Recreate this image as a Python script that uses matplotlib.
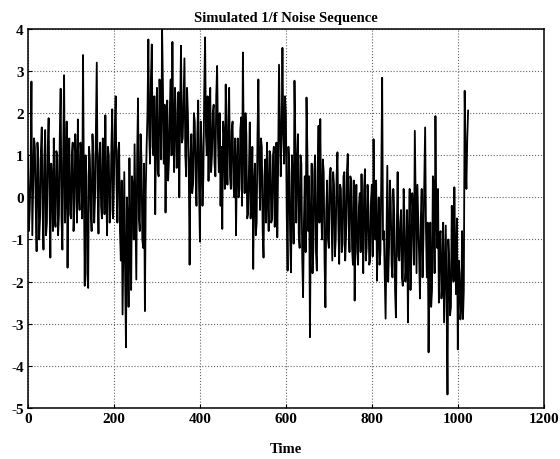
import numpy as np
import matplotlib
matplotlib.use('Agg')
import matplotlib.pyplot as plt

plt.rcParams['font.family'] = ['Liberation Serif', 'DejaVu Serif']
plt.rcParams['axes.unicode_minus'] = False

# the trace every 2 time units;
# samples at t = 0, 4, 8, ... 1024
noise_a = [
    1.0, -0.3, 2.75, 0.2, 1.2, -1.28, 0.9, -0.5, 1.66, -1.24, 1.6, -0.6, 1.88, -1.43, 0.4, 1.4,
    -0.7, 1.0, -0.4, 2.58, -1.24, 2.9, 0.2, -1.67, 1.4, -0.5, 1.3, -0.2, 0.8, 1.85, -0.3, 1.0,
    3.38, -2.1, 0.5, -2.15, 0.9, -0.8, 1.0, 0.0, 3.2, -0.86, 1.3, -0.5, 1.1, 1.95, -0.9, 1.0,
    -0.3, 2.09, 0.4, 2.4, -0.6, 1.3, -1.5, -2.78, 0.6, -3.56, -0.5, 0.93, -2.2, 0.2, 1.26, -1.95,
    2.35, -0.8, 0.9, -1.2, -2.7, 1.2, 3.75, 0.8, 3.63, 1.0, -0.4, 2.6, 0.5, 2.2, 4.0, 0.8,
    -0.36, 2.3, 0.9, 2.8, 3.69, 0.6, 2.0, 1.2, 0.0, 3.6, 1.4, 3.3, 0.5, 2.0, -1.6, 1.5,
    0.3, 1.8, -0.2, 2.3, -1.05, 1.2, 0.5, 3.8, 1.0, 0.39, 2.6, 1.0, 2.2, 0.5, 3.12, 0.6,
    -0.2, -0.75, 1.5, 2.68, 0.3, 2.6, 0.2, 1.8, 0.0, -0.9, 1.4, 0.2, 1.9, 3.44, 0.1, 1.5,
    -0.4, 1.78, 0.2, -1.7, 0.8, -0.6, 2.8, -0.3, 1.2, -1.43, 0.9, 1.3, -0.8, 1.0, -0.5, 1.2,
    -0.2, -0.95, 3.15, 0.5, 3.55, 0.8, 2.0, -1.74, 0.6, -1.78, 0.4, 2.77, -0.6, 1.5, -1.2, 0.8,
    -2.37, 0.5, 2.37, -0.8, -3.32, 0.8, -1.2, 1.0, -1.74, 1.7, 1.86, -1.0, 0.6, -2.61, 0.4, -1.2,
    0.7, -1.5, 0.3, -1.0, 1.07, -1.58, 0.2, -1.1, 0.6, -0.9, 1.03, -1.3, 0.4, -1.6, -2.45, 0.3,
    -1.6, 0.1, 0.55, -1.8, 0.67, -1.2, -0.2, -1.5, 0.3, 1.38, -1.0, -1.98, 0.0, -1.3, 2.84, -0.8,
    -2.88, 0.75, -1.2, -0.1, -1.9, -0.4, -2.85, 0.6, -1.5, -0.3, -2.1, -0.5, -1.6, -2.97, 0.2, -1.4,
    -0.3, 1.58, -1.8, -0.5, -2.4, 0.2, -1.0, 1.66, -1.9, -3.68, -0.6, -2.2, 0.3, 1.93, -1.2, -2.5,
    -0.8, -2.0, -2.97, -0.67, -4.68, -1.5, -2.6, -1.2, 0.24, -2.3, -3.61, -1.8, -2.6, -2.89, 2.53, 0.2,
    2.06,
]
# samples at t = 2, 6, 10, ... 1022
noise_b = [
    -0.8, 0.6, -0.9, 1.4, -0.2, 1.3, -1.0, 1.1, -0.3, 0.9, -0.9, 1.2, 0.1, 0.8, -0.8, -0.4,
    1.1, -0.9, 1.5, -0.5, 1.2, -0.6, 1.8, 0.6, -0.4, 1.0, -0.8, 1.5, -0.6, 0.2, 1.3, -0.5,
    0.4, 1.0, -1.8, 1.2, -0.3, 1.5, -0.6, 1.6, 0.2, 1.0, -0.2, 1.4, -0.4, 0.2, 1.2, -0.6,
    1.2, -0.5, 1.7, 0.3, 1.1, -0.8, 0.4, -1.0, -1.9, 0.0, -2.6, -1.2, 0.5, -1.0, -0.4, 1.0,
    -0.5, 1.5, -1.0, 0.8, 0.2, 2.0, 1.5, 2.8, 1.2, 2.4, 1.6, 0.6, 2.8, 0.9, 2.6, 2.2,
    1.6, 0.4, 2.1, 1.0, 1.5, 2.6, 0.7, 2.5, 2.1, 1.3, 2.4, 1.0, 2.6, 0.8, 0.9, 0.1,
    2.0, 0.5, 1.5, 0.2, 1.8, -0.2, 2.5, 1.5, 2.4, 1.8, 0.6, 2.0, 0.8, 2.4, 1.4, 2.0,
    1.2, 1.8, 0.2, 1.0, 1.9, 0.5, 1.6, 0.3, 1.4, 0.8, 0.0, 1.6, -0.2, 1.2, 2.0, -0.5,
    0.6, -0.5, 1.2, 0.3, -0.9, 1.5, 0.6, 1.4, -0.8, 0.5, -0.6, 0.0, 1.1, -0.6, 1.0, -0.7,
    1.3, 0.8, 1.8, 1.5, 1.6, 2.4, -0.4, 1.2, -1.0, 1.0, -1.1, 1.4, 0.8, -0.9, 1.0, -1.4,
    -0.6, -1.3, 1.1, 0.5, -0.6, -1.8, 0.6, -1.3, 0.6, -0.6, -0.2, 0.9, -1.5, -0.3, -1.0, 0.5,
    -0.4, 0.6, -1.4, 0.5, -0.6, 0.3, -1.3, 0.5, -1.5, 0.6, -0.6, 0.5, -1.2, 0.4, -0.5, -1.3,
    -0.2, -1.3, -0.8, 0.2, -1.5, 0.3, -1.6, -0.1, -1.4, -0.5, 0.4, -0.8, -1.6, 0.5, -1.0, -1.9,
    -1.0, -2.0, 0.4, -1.6, 0.2, -2.2, -0.8, -1.4, -0.6, -1.9, 0.2, -2.0, -0.3, -1.0, -2.2, 0.1,
    -1.6, -0.2, 0.3, -1.4, -0.5, -1.9, 0.4, -0.8, -0.6, -1.4, -2.6, 0.5, -1.8, -0.4, 0.2, -0.9,
    -2.4, -0.6, -1.8, -2.5, -1.0, -2.8, -0.2, -2.0, -1.5, -0.5, -1.5, -2.9, -0.8, -2.2, 0.9, 1.4,
]

noise = np.empty(len(noise_a) + len(noise_b))
noise[0::2] = noise_a
noise[1::2] = noise_b
time = np.arange(len(noise)) * 2

xticks = [0, 200, 400, 600, 800, 1000, 1200]
yticks = [-5, -4, -3, -2, -1, 0, 1, 2, 3, 4]

fig = plt.figure(figsize=(5.6, 4.6), dpi=100)
ax = fig.add_axes([0.05, 0.111, 0.921, 0.824])

ax.plot(time, noise, color='black', linewidth=1.3)

ax.set_xlim(0, 1200)
ax.set_ylim(-5, 4)
ax.set_xticks(xticks)
ax.set_yticks(yticks)
ax.tick_params(direction='in', length=3, labelsize=11, pad=3)
for lab in ax.get_xticklabels() + ax.get_yticklabels():
    lab.set_fontweight('bold')
ax.grid(True, linestyle=':', color='#666666', linewidth=0.8)
for s in ax.spines.values():
    s.set_linewidth(1.1)

ax.set_title('Simulated 1/f Noise Sequence', fontsize=10.5, fontweight='bold', pad=6)
ax.set_xlabel('Time', fontsize=10.5, fontweight='bold', labelpad=12)

fig.savefig('out.png', dpi=100)
